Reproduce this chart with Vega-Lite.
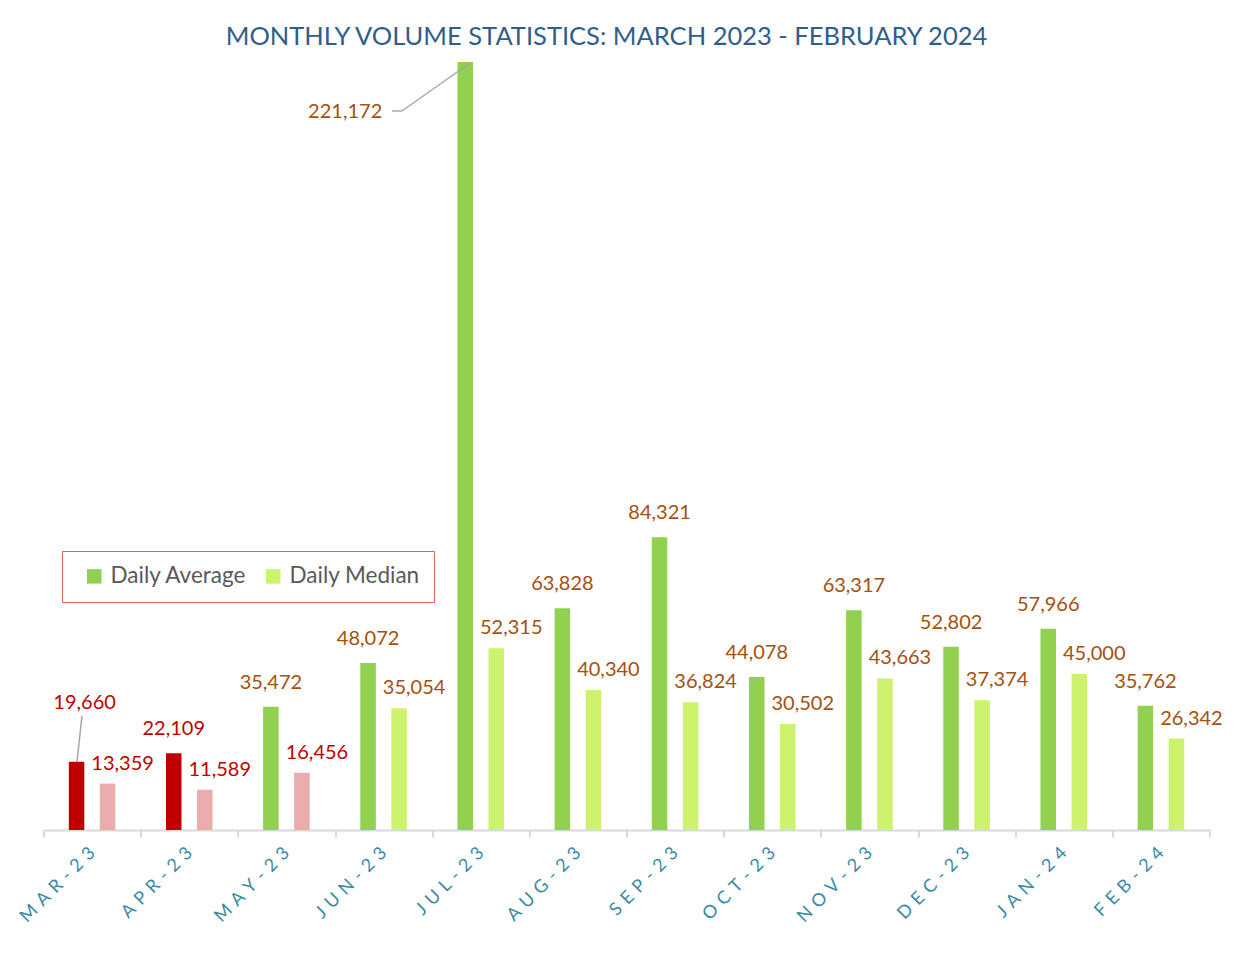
{
  "$schema": "https://vega.github.io/schema/vega-lite/v6.json",
  "width": 1166,
  "height": 768,
  "autosize": {"type": "none"},
  "padding": {"left": 43.5, "top": 62, "right": 27.5, "bottom": 140},
  "background": "white",
  "title": {
    "text": "MONTHLY VOLUME STATISTICS: MARCH 2023 - FEBRUARY 2024",
    "anchor": "middle",
    "dx": -20,
    "dy": 25,
    "offset": 12,
    "baseline": "bottom",
    "font": "Lato",
    "fontSize": 25.5,
    "fontWeight": "normal",
    "color": "#2F5E8E"
  },
  "data": {
    "values": [
      {"month": "Mar-23", "series": "Daily Average", "value": 19660},
      {"month": "Mar-23", "series": "Daily Median", "value": 13359},
      {"month": "Apr-23", "series": "Daily Average", "value": 22109},
      {"month": "Apr-23", "series": "Daily Median", "value": 11589},
      {"month": "May-23", "series": "Daily Average", "value": 35472},
      {"month": "May-23", "series": "Daily Median", "value": 16456},
      {"month": "Jun-23", "series": "Daily Average", "value": 48072},
      {"month": "Jun-23", "series": "Daily Median", "value": 35054},
      {"month": "Jul-23", "series": "Daily Average", "value": 221172},
      {"month": "Jul-23", "series": "Daily Median", "value": 52315},
      {"month": "Aug-23", "series": "Daily Average", "value": 63828},
      {"month": "Aug-23", "series": "Daily Median", "value": 40340},
      {"month": "Sep-23", "series": "Daily Average", "value": 84321},
      {"month": "Sep-23", "series": "Daily Median", "value": 36824},
      {"month": "Oct-23", "series": "Daily Average", "value": 44078},
      {"month": "Oct-23", "series": "Daily Median", "value": 30502},
      {"month": "Nov-23", "series": "Daily Average", "value": 63317},
      {"month": "Nov-23", "series": "Daily Median", "value": 43663},
      {"month": "Dec-23", "series": "Daily Average", "value": 52802},
      {"month": "Dec-23", "series": "Daily Median", "value": 37374},
      {"month": "Jan-24", "series": "Daily Average", "value": 57966},
      {"month": "Jan-24", "series": "Daily Median", "value": 45000},
      {"month": "Feb-24", "series": "Daily Average", "value": 35762},
      {"month": "Feb-24", "series": "Daily Median", "value": 26342}
    ]
  },
  "encoding": {
    "x": {
      "field": "month",
      "type": "nominal",
      "sort": ["Mar-23","Apr-23","May-23","Jun-23","Jul-23","Aug-23","Sep-23","Oct-23","Nov-23","Dec-23","Jan-24","Feb-24"],
      "scale": {"paddingInner": 0, "paddingOuter": 0},
      "axis": {
        "title": null,
        "domainColor": "#D9D9D9",
        "domainWidth": 2,
        "tickColor": "#D9D9D9",
        "tickWidth": 2,
        "tickSize": 7,
        "tickBand": "extent",
        "labelAngle": -45,
        "labelAlign": "right",
        "labelBaseline": "middle",
        "labelColor": "#3A8BA6",
        "labelFont": "Lato",
        "labelFontSize": 18,
        "labelPadding": 13,
        "labelExpr": "join(split(upper(datum.label), ''), '\u2004')"
      }
    },
    "y": {
      "field": "value",
      "type": "quantitative",
      "scale": {"domain": [0, 221172], "nice": false, "zero": true},
      "axis": null
    }
  },
  "layer": [
    {
      "mark": {"type": "bar"},
      "encoding": {
        "xOffset": {
          "field": "series",
          "type": "nominal",
          "scale": {"paddingInner": 0.5, "paddingOuter": 0.815}
        },
        "color": {
          "field": "series",
          "type": "nominal",
          "scale": {"domain": ["Daily Average", "Daily Median"], "range": ["#92D050", "#CDF26B"]},
          "legend": {
            "title": null,
            "orient": "none",
            "legendX": 18.5,
            "legendY": 489,
            "direction": "horizontal",
            "columns": 2,
            "padding": 14,
            "strokeColor": "#DC6066",
            "fillColor": "white",
            "symbolType": "square",
            "symbolSize": 210,
            "symbolStrokeWidth": 0,
            "symbolOffset": 7,
            "labelOffset": 5,
            "columnPadding": 8,
            "labelFont": "Lato",
            "labelFontSize": 22.5,
            "labelColor": "#595959"
          },
          "condition": [
            {"test": "datum.value < 25000 && datum.series == 'Daily Average'", "value": "#C00000"},
            {"test": "datum.value < 25000", "value": "#EAACAC"}
          ]
        }
      }
    },
    {
      "transform": [{"filter": "datum.series == 'Daily Average' && datum.month != 'Mar-23' && datum.month != 'Jul-23'"}],
      "mark": {"type": "text", "baseline": "middle", "dy": -24, "font": "Lato", "fontSize": 20},
      "encoding": {
        "xOffset": {"field": "series", "type": "nominal", "scale": {"paddingInner": 0.5, "paddingOuter": 0.815}},
        "text": {"field": "value", "type": "quantitative", "format": ","},
        "color": {"condition": {"test": "datum.value < 25000", "value": "#C00000"}, "value": "#A5500F"}
      }
    },
    {
      "transform": [{"filter": "datum.series == 'Daily Median'"}],
      "mark": {"type": "text", "baseline": "middle", "dx": 15, "dy": -20, "font": "Lato", "fontSize": 20},
      "encoding": {
        "xOffset": {"field": "series", "type": "nominal", "scale": {"paddingInner": 0.5, "paddingOuter": 0.815}},
        "text": {"field": "value", "type": "quantitative", "format": ","},
        "color": {"condition": {"test": "datum.value < 25000", "value": "#C00000"}, "value": "#A5500F"}
      }
    },
    {
      "transform": [{"filter": "datum.series == 'Daily Average' && datum.month == 'Jul-23'"}],
      "mark": {"type": "text", "baseline": "middle", "align": "right", "dx": -83, "dy": 50, "font": "Lato", "fontSize": 20, "color": "#A5500F"},
      "encoding": {
        "xOffset": {"field": "series", "type": "nominal", "scale": {"paddingInner": 0.5, "paddingOuter": 0.815}},
        "text": {"field": "value", "type": "quantitative", "format": ","}
      }
    },
    {
      "transform": [{"filter": "datum.series == 'Daily Average' && datum.month == 'Mar-23'"}],
      "mark": {"type": "text", "baseline": "middle", "align": "center", "dx": 8, "dy": -59, "font": "Lato", "fontSize": 20, "color": "#C00000"},
      "encoding": {
        "xOffset": {"field": "series", "type": "nominal", "scale": {"paddingInner": 0.5, "paddingOuter": 0.815}},
        "text": {"field": "value", "type": "quantitative", "format": ","}
      }
    },
    {
      "transform": [{"filter": "datum.series == 'Daily Average' && datum.month == 'Jul-23'"}],
      "mark": {"type": "rule", "color": "#A6A6A6", "strokeWidth": 1.5, "xOffset": 37.8, "x2Offset": -78.8, "yOffset": 1, "y2Offset": 49},
      "encoding": {
        "x": {"field": "month", "type": "nominal", "bandPosition": 0, "sort": ["Mar-23","Apr-23","May-23","Jun-23","Jul-23","Aug-23","Sep-23","Oct-23","Nov-23","Dec-23","Jan-24","Feb-24"]},
        "x2": {"field": "month"},
        "y2": {"field": "value"}
      }
    },
    {
      "transform": [{"filter": "datum.series == 'Daily Average' && datum.month == 'Jul-23'"}],
      "mark": {"type": "rule", "color": "#A6A6A6", "strokeWidth": 1.5, "xOffset": -40.2, "x2Offset": -78.8, "yOffset": 49, "y2Offset": 49},
      "encoding": {
        "x": {"field": "month", "type": "nominal", "bandPosition": 0, "sort": ["Mar-23","Apr-23","May-23","Jun-23","Jul-23","Aug-23","Sep-23","Oct-23","Nov-23","Dec-23","Jan-24","Feb-24"]},
        "x2": {"field": "month"},
        "y2": {"field": "value"}
      }
    },
    {
      "transform": [{"filter": "datum.series == 'Daily Average' && datum.month == 'Mar-23'"}],
      "mark": {"type": "rule", "color": "#A6A6A6", "strokeWidth": 1.5, "xOffset": 33.5, "x2Offset": -10.1, "yOffset": 0, "y2Offset": -46},
      "encoding": {
        "x": {"field": "month", "type": "nominal", "bandPosition": 0, "sort": ["Mar-23","Apr-23","May-23","Jun-23","Jul-23","Aug-23","Sep-23","Oct-23","Nov-23","Dec-23","Jan-24","Feb-24"]},
        "x2": {"field": "month"},
        "y2": {"field": "value"}
      }
    }
  ],
  "config": {
    "view": {"stroke": null},
    "font": "Lato"
  }
}
